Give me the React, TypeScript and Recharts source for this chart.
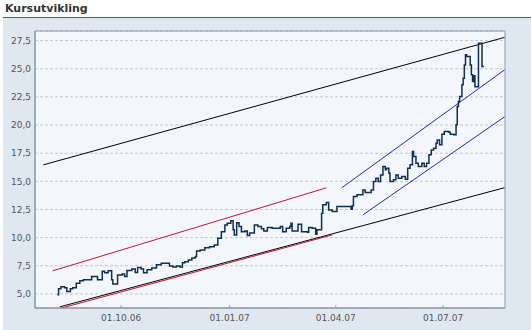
import { LineChart, Line, XAxis, YAxis, CartesianGrid, ReferenceArea } from 'recharts';

// kursdata (lest av bildet)
const priceDates = [
  '2006-08-08', '2006-08-09', '2006-08-11', '2006-08-14', '2006-08-16', '2006-08-19', '2006-08-21',
  '2006-08-24', '2006-08-27', '2006-08-30', '2006-09-06', '2006-09-11', '2006-09-15', '2006-09-17',
  '2006-09-20', '2006-09-23', '2006-09-24', '2006-09-28', '2006-10-02', '2006-10-04', '2006-10-06',
  '2006-10-10', '2006-10-13', '2006-10-15', '2006-10-18', '2006-10-20', '2006-10-23', '2006-10-27',
  '2006-10-31', '2006-11-04', '2006-11-11', '2006-11-14', '2006-11-17', '2006-11-20', '2006-11-22',
  '2006-11-24', '2006-11-27', '2006-11-30', '2006-12-03', '2006-12-04', '2006-12-07', '2006-12-11',
  '2006-12-15', '2006-12-19', '2006-12-22', '2006-12-25', '2006-12-28', '2006-12-30', '2007-01-02',
  '2007-01-04', '2007-01-05', '2007-01-07', '2007-01-09', '2007-01-11', '2007-01-14', '2007-01-16',
  '2007-01-18', '2007-01-22', '2007-01-25', '2007-01-28', '2007-01-30', '2007-02-02', '2007-02-06',
  '2007-02-13', '2007-02-15', '2007-02-18', '2007-02-21', '2007-02-22', '2007-02-23', '2007-02-28',
  '2007-03-03', '2007-03-08', '2007-03-09', '2007-03-12', '2007-03-15', '2007-03-16', '2007-03-20',
  '2007-03-21', '2007-03-24', '2007-03-26', '2007-03-29', '2007-04-02', '2007-04-14', '2007-04-15',
  '2007-04-16', '2007-04-19', '2007-04-24', '2007-04-26', '2007-05-01', '2007-05-03', '2007-05-05',
  '2007-05-07', '2007-05-09', '2007-05-11', '2007-05-13', '2007-05-14', '2007-05-16', '2007-05-17',
  '2007-05-20', '2007-05-22', '2007-05-24', '2007-05-27', '2007-05-30', '2007-06-01', '2007-06-03',
  '2007-06-05', '2007-06-06', '2007-06-08', '2007-06-10', '2007-06-13', '2007-06-15', '2007-06-17',
  '2007-06-19', '2007-06-21', '2007-06-23', '2007-06-25', '2007-06-26', '2007-06-28', '2007-06-30',
  '2007-07-02', '2007-07-06', '2007-07-07', '2007-07-10', '2007-07-12', '2007-07-13', '2007-07-14',
  '2007-07-15', '2007-07-17', '2007-07-18', '2007-07-19', '2007-07-20', '2007-07-21', '2007-07-24',
  '2007-07-25', '2007-07-26', '2007-07-27', '2007-07-28', '2007-07-31', '2007-08-03', '2007-08-04',
];
const priceValues = [
  4.92, 5.45, 5.63, 5.54, 5.21, 5.45, 5.54,
  5.95, 6.16, 6.25, 6.54, 6.25, 7.01, 6.87,
  7.05, 6.25, 5.89, 6.69, 6.78, 6.54, 7.07,
  7.22, 6.9, 7.34, 7.22, 6.87, 7.14, 7.31,
  7.58, 7.73, 7.49, 7.4, 7.49, 7.4, 7.76,
  7.85, 8.02, 8.2, 8.32, 8.82, 8.91, 9.11,
  9.2, 9.35, 9.95, 10.53, 11.13, 11.28, 11.49,
  10.69, 10.24, 11.31, 10.98, 10.53, 10.59, 10.18,
  10.42, 11.13, 10.98, 10.78, 10.59, 10.89, 10.84,
  10.98, 10.53, 10.84, 10.98, 11.28, 10.59, 11.19,
  10.53, 10.48, 10.89, 10.84, 10.31, 10.69, 12.17,
  12.91, 13.13, 12.46, 12.31, 12.76, 12.53, 12.82,
  13.65, 13.8, 14.24, 14.0, 14.24, 14.98, 15.28,
  14.98, 15.57, 16.31, 16.02, 16.17, 15.73, 14.98,
  15.14, 15.57, 15.28, 15.43, 15.19, 16.17, 16.47,
  17.64, 17.2, 16.61, 16.31, 16.61, 16.31, 16.61,
  17.35, 17.79, 17.94, 18.39, 18.68, 18.24, 19.18,
  19.42, 19.36, 19.19, 19.13, 20.02, 21.64, 22.08,
  22.53, 23.57, 24.16, 25.34, 26.23, 26.08, 25.34,
  24.46, 23.87, 24.37, 23.41, 27.27, 25.19, 25.13,
];

// trendlinjer
const blackUpperDates = ['2006-07-27', '2007-08-22'];
const blackUpperValues = [16.46, 27.78];
const blackLowerDates = ['2006-08-10', '2007-08-22'];
const blackLowerValues = [3.85, 14.43];
const redUpperDates = ['2006-08-04', '2007-03-24'];
const redUpperValues = [7.05, 14.42];
const redLowerDates = ['2006-08-12', '2007-03-29'];
const redLowerValues = [3.76, 10.24];
const blueUpperDates = ['2007-04-06', '2007-08-22'];
const blueUpperValues = [14.42, 24.89];
const blueLowerDates = ['2007-04-24', '2007-08-22'];
const blueLowerValues = [12.02, 20.72];

const yTicks = [5, 7.5, 10, 12.5, 15, 17.5, 20, 22.5, 25, 27.5];
const xTickDates = ['2006-10-01', '2007-01-01', '2007-04-01', '2007-07-01'];

const toRows = (dates: string[], values: number[]) =>
  dates.map((d, i) => ({ t: Date.parse(d), v: values[i] }));

const priceData = toRows(priceDates, priceValues);
const xMin = Date.UTC(2006, 6, 20);
const xMax = Date.UTC(2007, 7, 22, 12);
const yMin = 3.75;
const yMax = 28.35;

const fmtDate = (t: number) => {
  const d = new Date(t);
  const p = (n: number) => String(n).padStart(2, '0');
  return `${p(d.getUTCDate())}.${p(d.getUTCMonth() + 1)}.${p(d.getUTCFullYear() % 100)}`;
};

const tickStyle = { fontFamily: 'DejaVu Sans', fontSize: 9, fill: '#555' };

const trend = (dates: string[], values: number[], color: string, key: string) => (
  <Line
    key={key}
    data={toRows(dates, values)}
    dataKey="v"
    type="linear"
    stroke={color}
    strokeWidth={1}
    dot={false}
    activeDot={false}
    isAnimationActive={false}
  />
);

export default function App() {
  return (
    <div style={{ position: 'absolute', left: 0, top: 0, width: 531, height: 330, background: '#fff' }}>
      <div
        style={{
          position: 'absolute',
          left: 5,
          top: 2,
          fontFamily: 'DejaVu Sans',
          fontWeight: 'bold',
          fontSize: 11,
          color: '#333',
        }}
      >
        Kursutvikling
      </div>
      <div style={{ position: 'absolute', left: 3, top: 17, width: 528, height: 1, background: '#5a5f64' }} />
      <div style={{ position: 'absolute', left: 3, top: 18, width: 528, height: 312, background: '#dfe8f0' }}>
        <LineChart width={528} height={312} margin={{ top: 13, right: 26, left: 0, bottom: 0 }}>
          <CartesianGrid
            horizontal
            vertical={false}
            fill="#f3f7fb"
            stroke="#c4c8cc"
            strokeDasharray="3 2"
          />
          <XAxis
            dataKey="t"
            type="number"
            domain={[xMin, xMax]}
            ticks={xTickDates.map((d) => Date.parse(d))}
            tickFormatter={fmtDate}
            height={22}
            tick={tickStyle}
            tickSize={-3}
            tickMargin={10}
            tickLine={{ stroke: '#9aa4ad' }}
            axisLine={{ stroke: '#8c969f' }}
            allowDataOverflow
          />
          <YAxis
            type="number"
            domain={[yMin, yMax]}
            ticks={yTicks}
            tickFormatter={(v: number) => v.toFixed(1).replace('.', ',')}
            width={32}
            tick={tickStyle}
            tickSize={0}
            tickMargin={4}
            axisLine={{ stroke: '#8c969f' }}
            allowDataOverflow
          />
          <ReferenceArea x1={xMin} x2={xMax} y1={yMin} y2={yMax} fill="none" stroke="#8c969f" />
          {trend(blackUpperDates, blackUpperValues, '#000000', 'bu')}
          {trend(blackLowerDates, blackLowerValues, '#000000', 'bl')}
          {trend(redUpperDates, redUpperValues, '#cc1133', 'ru')}
          {trend(redLowerDates, redLowerValues, '#cc1133', 'rl')}
          {trend(blueUpperDates, blueUpperValues, '#2828b4', 'blu')}
          {trend(blueLowerDates, blueLowerValues, '#2828b4', 'bll')}
          <Line
            data={priceData}
            dataKey="v"
            type="stepAfter"
            stroke="#0f2f50"
            strokeWidth={1.5}
            dot={false}
            activeDot={false}
            isAnimationActive={false}
          />
        </LineChart>
      </div>
    </div>
  );
}
